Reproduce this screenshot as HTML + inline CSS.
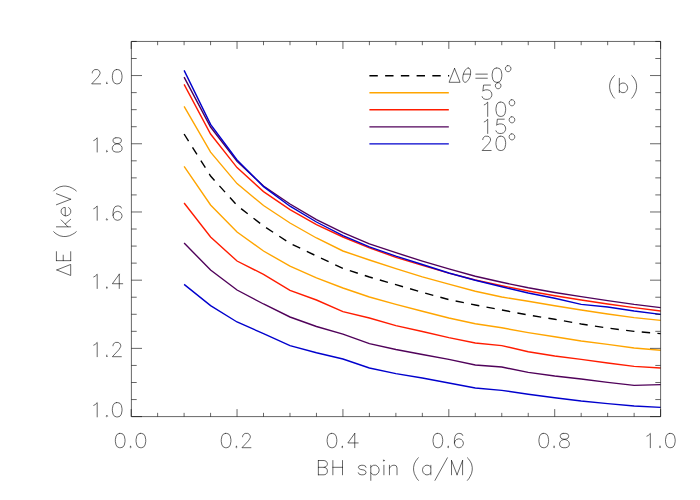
<!DOCTYPE html>
<html><head><meta charset="utf-8"><title>plot</title>
<style>html,body{margin:0;padding:0;background:#fff;font-family:"Liberation Sans",sans-serif;}svg{display:block}</style>
</head><body>
<svg width="700" height="500" viewBox="0 0 700 500">
<rect width="700" height="500" fill="#fff"/>
<polyline fill="none" stroke="#000" stroke-width="1.4" stroke-dasharray="8.4 7.33" points="184.1,134 210.57,176 237.04,205.5 263.51,226 289.99,243.3 316.46,256 342.93,268.4 369.4,277 395.88,284.7 422.35,292.3 448.82,299.6 475.29,305 501.77,310 528.24,315 554.71,319.3 581.18,324 607.66,328 634.13,331.4 660.6,333.6"/>
<polyline fill="none" stroke="#ffa500" stroke-width="1.4" points="184.1,106.4 210.57,152.2 237.04,183.6 263.51,205.5 289.99,223 316.46,238 342.93,251 369.4,260 395.88,268.7 422.35,276.8 448.82,284.1 475.29,291.2 501.77,297 528.24,301.3 554.71,305.8 581.18,310 607.66,314 634.13,317.6 660.6,320.4"/>
<polyline fill="none" stroke="#ffa500" stroke-width="1.4" points="184.1,166.4 210.57,205 237.04,232 263.51,251 289.99,266.2 316.46,277.8 342.93,288 369.4,297 395.88,304.4 422.35,311.3 448.82,318 475.29,323.8 501.77,327.8 528.24,332.6 554.71,336.8 581.18,341 607.66,344.4 634.13,348 660.6,350.2"/>
<polyline fill="none" stroke="#ff1c00" stroke-width="1.4" points="184.1,84.4 210.57,134 237.04,167.6 263.51,191.6 289.99,209.6 316.46,224.7 342.93,237 369.4,247.9 395.88,257.3 422.35,265.4 448.82,273.2 475.29,280 501.77,285.7 528.24,291 554.71,295.7 581.18,300 607.66,304 634.13,307.6 660.6,311"/>
<polyline fill="none" stroke="#ff1c00" stroke-width="1.4" points="184.1,203 210.57,237 237.04,261 263.51,274.4 289.99,290.4 316.46,300 342.93,311.6 369.4,318 395.88,325.6 422.35,331.5 448.82,337.6 475.29,343 501.77,345.6 528.24,351.8 554.71,356 581.18,359.4 607.66,363 634.13,366.4 660.6,368"/>
<polyline fill="none" stroke="#50025a" stroke-width="1.4" points="184.1,77.2 210.57,127 237.04,161.4 263.51,186 289.99,204 316.46,219.65 342.93,232.7 369.4,243.9 395.88,252.7 422.35,261.1 448.82,268.9 475.29,276.2 501.77,282.3 528.24,287.8 554.71,292.5 581.18,296.6 607.66,300.6 634.13,304.4 660.6,307.6"/>
<polyline fill="none" stroke="#50025a" stroke-width="1.4" points="184.1,243 210.57,270 237.04,290 263.51,304 289.99,317 316.46,326.5 342.93,334.2 369.4,343.6 395.88,349.5 422.35,354.5 448.82,359.4 475.29,365 501.77,367 528.24,372.4 554.71,376 581.18,379 607.66,382.4 634.13,385.4 660.6,384.6"/>
<polyline fill="none" stroke="#0000cd" stroke-width="1.4" points="184.1,70.4 210.57,124.4 237.04,160 263.51,186.6 289.99,206.2 316.46,222 342.93,235.6 369.4,246.9 395.88,256.1 422.35,264.5 448.82,273 475.29,280.2 501.77,286.7 528.24,293 554.71,298.3 581.18,304.4 607.66,307 634.13,311 660.6,314.4"/>
<polyline fill="none" stroke="#0000cd" stroke-width="1.4" points="184.1,284.4 210.57,305.6 237.04,322 263.51,333.6 289.99,345.7 316.46,352.7 342.93,359 369.4,368 395.88,373.6 422.35,378 448.82,383 475.29,388 501.77,390.4 528.24,394.2 554.71,397.8 581.18,401 607.66,403.6 634.13,406 660.6,407.4"/>
<line x1="369.4" y1="75.68" x2="449.17" y2="75.68" stroke="#000" stroke-width="1.4" stroke-dasharray="8.4 7.33"/>
<line x1="369.4" y1="92.74" x2="448.82" y2="92.74" stroke="#ffa500" stroke-width="1.4"/>
<line x1="369.4" y1="109.79" x2="448.82" y2="109.79" stroke="#ff1c00" stroke-width="1.4"/>
<line x1="369.4" y1="126.84" x2="448.82" y2="126.84" stroke="#50025a" stroke-width="1.4"/>
<line x1="369.4" y1="143.89" x2="448.82" y2="143.89" stroke="#0000cd" stroke-width="1.4"/>
<path d="M131.4 41.45 H660.6 V416.6 H131.4 Z M131.15 416.6 v-7.5 M131.15 41.45 v7.5 M157.62 416.6 v-3.75 M157.62 41.45 v3.75 M184.1 416.6 v-3.75 M184.1 41.45 v3.75 M210.57 416.6 v-3.75 M210.57 41.45 v3.75 M237.04 416.6 v-7.5 M237.04 41.45 v7.5 M263.51 416.6 v-3.75 M263.51 41.45 v3.75 M289.99 416.6 v-3.75 M289.99 41.45 v3.75 M316.46 416.6 v-3.75 M316.46 41.45 v3.75 M342.93 416.6 v-7.5 M342.93 41.45 v7.5 M369.4 416.6 v-3.75 M369.4 41.45 v3.75 M395.88 416.6 v-3.75 M395.88 41.45 v3.75 M422.35 416.6 v-3.75 M422.35 41.45 v3.75 M448.82 416.6 v-7.5 M448.82 41.45 v7.5 M475.29 416.6 v-3.75 M475.29 41.45 v3.75 M501.77 416.6 v-3.75 M501.77 41.45 v3.75 M528.24 416.6 v-3.75 M528.24 41.45 v3.75 M554.71 416.6 v-7.5 M554.71 41.45 v7.5 M581.18 416.6 v-3.75 M581.18 41.45 v3.75 M607.66 416.6 v-3.75 M607.66 41.45 v3.75 M634.13 416.6 v-3.75 M634.13 41.45 v3.75 M660.6 416.6 v-7.5 M660.6 41.45 v7.5 M131.4 416.6 h10.6 M660.6 416.6 h-10.6 M131.4 399.55 h5.3 M660.6 399.55 h-5.3 M131.4 382.5 h5.3 M660.6 382.5 h-5.3 M131.4 365.44 h5.3 M660.6 365.44 h-5.3 M131.4 348.39 h10.6 M660.6 348.39 h-10.6 M131.4 331.34 h5.3 M660.6 331.34 h-5.3 M131.4 314.29 h5.3 M660.6 314.29 h-5.3 M131.4 297.23 h5.3 M660.6 297.23 h-5.3 M131.4 280.18 h10.6 M660.6 280.18 h-10.6 M131.4 263.13 h5.3 M660.6 263.13 h-5.3 M131.4 246.08 h5.3 M660.6 246.08 h-5.3 M131.4 229.03 h5.3 M660.6 229.03 h-5.3 M131.4 211.97 h10.6 M660.6 211.97 h-10.6 M131.4 194.92 h5.3 M660.6 194.92 h-5.3 M131.4 177.87 h5.3 M660.6 177.87 h-5.3 M131.4 160.82 h5.3 M660.6 160.82 h-5.3 M131.4 143.76 h10.6 M660.6 143.76 h-10.6 M131.4 126.71 h5.3 M660.6 126.71 h-5.3 M131.4 109.66 h5.3 M660.6 109.66 h-5.3 M131.4 92.61 h5.3 M660.6 92.61 h-5.3 M131.4 75.55 h10.6 M660.6 75.55 h-10.6 M131.4 58.5 h5.3 M660.6 58.5 h-5.3 M131.4 41.45 h5.3 M660.6 41.45 h-5.3" fill="none" stroke="#000" stroke-width="0.6"/>
<path d="M119.51 433.42 L117.44 434.1 L116.06 436.14 L115.37 439.54 L115.37 441.58 L116.06 444.98 L117.44 447.02 L119.51 447.7 L120.89 447.7 L122.96 447.02 L124.34 444.98 L125.03 441.58 L125.03 439.54 L124.34 436.14 L122.96 434.1 L120.89 433.42 L119.51 433.42 M130.55 446.34 L129.86 447.02 L130.55 447.7 L131.24 447.02 L130.55 446.34 M140.21 433.42 L138.14 434.1 L136.76 436.14 L136.07 439.54 L136.07 441.58 L136.76 444.98 L138.14 447.02 L140.21 447.7 L141.59 447.7 L143.66 447.02 L145.04 444.98 L145.73 441.58 L145.73 439.54 L145.04 436.14 L143.66 434.1 L141.59 433.42 L140.21 433.42 M225.4 433.42 L223.33 434.1 L221.95 436.14 L221.26 439.54 L221.26 441.58 L221.95 444.98 L223.33 447.02 L225.4 447.7 L226.78 447.7 L228.85 447.02 L230.23 444.98 L230.92 441.58 L230.92 439.54 L230.23 436.14 L228.85 434.1 L226.78 433.42 L225.4 433.42 M236.44 446.34 L235.75 447.02 L236.44 447.7 L237.13 447.02 L236.44 446.34 M242.6 436.82 L242.6 436.14 L243.24 434.78 L243.89 434.1 L245.16 433.42 L247.73 433.42 L249 434.1 L249.65 434.78 L250.29 436.14 L250.29 437.5 L249.65 438.86 L248.37 440.9 L241.96 447.7 L250.93 447.7 M331.29 433.42 L329.22 434.1 L327.84 436.14 L327.15 439.54 L327.15 441.58 L327.84 444.98 L329.22 447.02 L331.29 447.7 L332.67 447.7 L334.74 447.02 L336.12 444.98 L336.81 441.58 L336.81 439.54 L336.12 436.14 L334.74 434.1 L332.67 433.42 L331.29 433.42 M342.33 446.34 L341.64 447.02 L342.33 447.7 L343.02 447.02 L342.33 446.34 M354.75 433.42 L347.85 442.94 L358.2 442.94 M354.75 433.42 L354.75 447.7 M437.18 433.42 L435.11 434.1 L433.73 436.14 L433.04 439.54 L433.04 441.58 L433.73 444.98 L435.11 447.02 L437.18 447.7 L438.56 447.7 L440.63 447.02 L442.01 444.98 L442.7 441.58 L442.7 439.54 L442.01 436.14 L440.63 434.1 L438.56 433.42 L437.18 433.42 M448.22 446.34 L447.53 447.02 L448.22 447.7 L448.91 447.02 L448.22 446.34 M462.71 435.46 L462.02 434.1 L459.95 433.42 L458.57 433.42 L456.5 434.1 L455.12 436.14 L454.43 439.54 L454.43 442.94 L455.12 445.66 L456.5 447.02 L458.57 447.7 L459.26 447.7 L461.33 447.02 L462.71 445.66 L463.4 443.62 L463.4 442.94 L462.71 440.9 L461.33 439.54 L459.26 438.86 L458.57 438.86 L456.5 439.54 L455.12 440.9 L454.43 442.94 M543.07 433.42 L541 434.1 L539.62 436.14 L538.93 439.54 L538.93 441.58 L539.62 444.98 L541 447.02 L543.07 447.7 L544.45 447.7 L546.52 447.02 L547.9 444.98 L548.59 441.58 L548.59 439.54 L547.9 436.14 L546.52 434.1 L544.45 433.42 L543.07 433.42 M554.11 446.34 L553.42 447.02 L554.11 447.7 L554.8 447.02 L554.11 446.34 M563.08 433.42 L561.01 434.1 L560.32 435.46 L560.32 436.82 L561.01 438.18 L562.39 438.86 L565.15 439.54 L567.22 440.22 L568.6 441.58 L569.29 442.94 L569.29 444.98 L568.6 446.34 L567.91 447.02 L565.84 447.7 L563.08 447.7 L561.01 447.02 L560.32 446.34 L559.63 444.98 L559.63 442.94 L560.32 441.58 L561.7 440.22 L563.77 439.54 L566.53 438.86 L567.91 438.18 L568.6 436.82 L568.6 435.46 L567.91 434.1 L565.84 433.42 L563.08 433.42 M646.89 436.14 L648.27 435.46 L650.34 433.42 L650.34 447.7 M660 446.34 L659.31 447.02 L660 447.7 L660.69 447.02 L660 446.34 M669.66 433.42 L667.59 434.1 L666.21 436.14 L665.52 439.54 L665.52 441.58 L666.21 444.98 L667.59 447.02 L669.66 447.7 L671.04 447.7 L673.11 447.02 L674.49 444.98 L675.18 441.58 L675.18 439.54 L674.49 436.14 L673.11 434.1 L671.04 433.42 L669.66 433.42 M93.74 405.34 L95.12 404.66 L97.19 402.62 L97.19 416.9 M106.85 415.54 L106.16 416.22 L106.85 416.9 L107.54 416.22 L106.85 415.54 M116.51 402.62 L114.44 403.3 L113.06 405.34 L112.37 408.74 L112.37 410.78 L113.06 414.18 L114.44 416.22 L116.51 416.9 L117.89 416.9 L119.96 416.22 L121.34 414.18 L122.03 410.78 L122.03 408.74 L121.34 405.34 L119.96 403.3 L117.89 402.62 L116.51 402.62 M93.74 345.13 L95.12 344.45 L97.19 342.41 L97.19 356.69 M106.85 355.33 L106.16 356.01 L106.85 356.69 L107.54 356.01 L106.85 355.33 M113.01 345.81 L113.01 345.13 L113.65 343.77 L114.3 343.09 L115.57 342.41 L118.14 342.41 L119.41 343.09 L120.06 343.77 L120.7 345.13 L120.7 346.49 L120.06 347.85 L118.78 349.89 L112.37 356.69 L121.34 356.69 M93.74 276.92 L95.12 276.24 L97.19 274.2 L97.19 288.48 M106.85 287.12 L106.16 287.8 L106.85 288.48 L107.54 287.8 L106.85 287.12 M119.27 274.2 L112.37 283.72 L122.72 283.72 M119.27 274.2 L119.27 288.48 M93.74 208.71 L95.12 208.03 L97.19 205.99 L97.19 220.27 M106.85 218.91 L106.16 219.59 L106.85 220.27 L107.54 219.59 L106.85 218.91 M121.34 208.03 L120.65 206.67 L118.58 205.99 L117.2 205.99 L115.13 206.67 L113.75 208.71 L113.06 212.11 L113.06 215.51 L113.75 218.23 L115.13 219.59 L117.2 220.27 L117.89 220.27 L119.96 219.59 L121.34 218.23 L122.03 216.19 L122.03 215.51 L121.34 213.47 L119.96 212.11 L117.89 211.43 L117.2 211.43 L115.13 212.11 L113.75 213.47 L113.06 215.51 M93.74 140.5 L95.12 139.82 L97.19 137.78 L97.19 152.06 M106.85 150.7 L106.16 151.38 L106.85 152.06 L107.54 151.38 L106.85 150.7 M115.82 137.78 L113.75 138.46 L113.06 139.82 L113.06 141.18 L113.75 142.54 L115.13 143.22 L117.89 143.9 L119.96 144.58 L121.34 145.94 L122.03 147.3 L122.03 149.34 L121.34 150.7 L120.65 151.38 L118.58 152.06 L115.82 152.06 L113.75 151.38 L113.06 150.7 L112.37 149.34 L112.37 147.3 L113.06 145.94 L114.44 144.58 L116.51 143.9 L119.27 143.22 L120.65 142.54 L121.34 141.18 L121.34 139.82 L120.65 138.46 L118.58 137.78 L115.82 137.78 M92.31 72.97 L92.31 72.29 L92.95 70.93 L93.6 70.25 L94.87 69.57 L97.44 69.57 L98.71 70.25 L99.36 70.93 L100 72.29 L100 73.65 L99.36 75.01 L98.08 77.05 L91.67 83.85 L100.64 83.85 M106.85 82.49 L106.16 83.17 L106.85 83.85 L107.54 83.17 L106.85 82.49 M116.51 69.57 L114.44 70.25 L113.06 72.29 L112.37 75.69 L112.37 77.73 L113.06 81.13 L114.44 83.17 L116.51 83.85 L117.89 83.85 L119.96 83.17 L121.34 81.13 L122.03 77.73 L122.03 75.69 L121.34 72.29 L119.96 70.25 L117.89 69.57 L116.51 69.57 M318.37 460.52 L318.37 474.8 M318.37 460.52 L324.13 460.52 L326.05 461.2 L326.69 461.88 L327.34 463.24 L327.34 464.6 L326.69 465.96 L326.05 466.64 L324.13 467.32 M318.37 467.32 L324.13 467.32 L326.05 468 L326.69 468.68 L327.34 470.04 L327.34 472.08 L326.69 473.44 L326.05 474.12 L324.13 474.8 L318.37 474.8 M332.86 460.52 L332.86 474.8 M342.51 460.52 L342.51 474.8 M332.86 467.32 L342.51 467.32 M365.98 467.32 L365.29 465.96 L363.22 465.28 L361.15 465.28 L359.08 465.96 L358.38 467.32 L359.08 468.68 L360.46 469.36 L363.91 470.04 L365.29 470.72 L365.98 472.08 L365.98 472.76 L365.29 474.12 L363.22 474.8 L361.15 474.8 L359.08 474.12 L358.38 472.76 M370.81 465.28 L370.81 480.37 M370.81 467.32 L372.19 465.96 L373.56 465.28 L375.63 465.28 L377.01 465.96 L378.39 467.32 L379.09 469.36 L379.09 470.72 L378.39 472.76 L377.01 474.12 L375.63 474.8 L373.56 474.8 L372.19 474.12 L370.81 472.76 M383.23 460.52 L383.92 461.2 L384.61 460.52 L383.92 459.84 L383.23 460.52 M383.92 465.28 L383.92 474.8 M389.44 465.28 L389.44 474.8 M389.44 468 L391.5 465.96 L392.88 465.28 L394.96 465.28 L396.34 465.96 L397.02 468 L397.02 474.8 M418.42 457.8 L417.04 459.16 L415.66 461.2 L414.27 463.92 L413.59 467.32 L413.59 470.04 L414.27 473.44 L415.66 476.39 L417.04 478.78 L418.42 480.37 M430.84 465.28 L430.84 474.8 M430.84 467.32 L429.46 465.96 L428.07 465.28 L426 465.28 L424.62 465.96 L423.25 467.32 L422.56 469.36 L422.56 470.72 L423.25 472.76 L424.62 474.12 L426 474.8 L428.07 474.8 L429.46 474.12 L430.84 472.76 M447.39 457.8 L434.98 480.37 M451.53 460.52 L451.53 474.8 M451.53 460.52 L457.06 474.8 M462.58 460.52 L457.06 474.8 M462.58 460.52 L462.58 474.8 M467.4 457.8 L468.78 459.16 L470.17 461.2 L471.55 463.92 L472.24 467.32 L472.24 470.04 L471.55 473.44 L470.17 476.39 L468.78 478.78 L467.4 480.37 M56.83 269.96 L70.7 275.48 L70.7 264.44 L56.83 269.96 M56.42 260.65 L70.7 260.65 M56.42 260.65 L56.42 251.68 M63.22 260.65 L63.22 255.13 M70.7 260.65 L70.7 251.68 M53.7 231.67 L55.06 233.05 L57.1 234.43 L59.82 235.81 L63.22 236.5 L65.94 236.5 L69.34 235.81 L72.29 234.43 L74.68 233.05 L76.27 231.67 M56.42 226.84 L70.7 226.84 M61.18 219.94 L67.98 226.84 M65.26 224.08 L70.7 219.25 M65.26 215.8 L65.26 207.52 L63.9 207.52 L62.54 208.21 L61.86 208.9 L61.18 210.28 L61.18 212.35 L61.86 213.73 L63.22 215.11 L65.26 215.8 L66.62 215.8 L68.66 215.11 L70.02 213.73 L70.7 212.35 L70.7 210.28 L70.02 208.9 L68.66 207.52 M56.42 204.76 L70.7 199.24 M56.42 193.72 L70.7 199.24 M53.7 190.96 L55.06 189.58 L57.1 188.2 L59.82 186.82 L63.22 186.13 L65.94 186.13 L69.34 186.82 L72.29 188.2 L74.68 189.58 L76.27 190.96 M614.49 75.6 L613.11 76.96 L611.73 79 L610.35 81.72 L609.66 85.12 L609.66 87.84 L610.35 91.24 L611.73 94.19 L613.11 96.58 L614.49 98.17 M619.32 78.32 L619.32 92.6 M619.32 85.12 L620.7 83.76 L622.08 83.08 L624.15 83.08 L625.53 83.76 L626.91 85.12 L627.6 87.16 L627.6 88.52 L626.91 90.56 L625.53 91.92 L624.15 92.6 L622.08 92.6 L620.7 91.92 L619.32 90.56 M631.74 75.6 L633.12 76.96 L634.5 79 L635.88 81.72 L636.57 85.12 L636.57 87.84 L635.88 91.24 L634.5 94.19 L633.12 96.58 L631.74 98.17 M454.56 68.43 L449.05 82.3 L460.08 82.3 L454.56 68.43 M468.3 68.02 L469.06 68.2 L469.7 68.73 L470.19 69.58 L470.51 70.71 L470.64 72.06 L470.56 73.57 L470.3 75.16 L469.86 76.75 L469.25 78.26 L468.52 79.61 L467.7 80.74 L466.83 81.59 L465.96 82.12 L465.12 82.3 L464.36 82.12 L463.71 81.59 L463.22 80.74 L462.91 79.61 L462.78 78.26 L462.86 76.75 L463.12 75.16 L463.56 73.57 L464.17 72.06 L464.89 70.71 L465.72 69.58 L466.59 68.73 L467.46 68.2 L468.3 68.02 M463.45 74.14 L470.42 74.14 M475.82 74.14 L487.34 74.14 M475.82 78.22 L487.34 78.22 M496.31 68.02 L494.24 68.7 L492.86 70.74 L492.17 74.14 L492.17 76.18 L492.86 79.58 L494.24 81.62 L496.31 82.3 L497.69 82.3 L499.76 81.62 L501.14 79.58 L501.83 76.18 L501.83 74.14 L501.14 70.74 L499.76 68.7 L497.69 68.02 L496.31 68.02 M507.52 65.7 L506.67 66.12 L505.81 66.96 L505.38 68.23 L505.38 69.07 L505.81 70.34 L506.67 71.18 L507.52 71.6 L508.81 71.6 L509.66 71.18 L510.52 70.34 L510.94 69.07 L510.94 68.23 L510.52 66.96 L509.66 66.12 L508.81 65.7 L507.52 65.7 M490.45 85.07 L483.55 85.07 L482.86 91.19 L483.55 90.51 L485.62 89.83 L487.69 89.83 L489.76 90.51 L491.14 91.87 L491.83 93.91 L491.83 95.27 L491.14 97.31 L489.76 98.67 L487.69 99.35 L485.62 99.35 L483.55 98.67 L482.86 97.99 L482.17 96.63 M497.52 82.75 L496.67 83.17 L495.81 84.01 L495.38 85.28 L495.38 86.12 L495.81 87.39 L496.67 88.23 L497.52 88.65 L498.81 88.65 L499.66 88.23 L500.52 87.39 L500.94 86.12 L500.94 85.28 L500.52 84.01 L499.66 83.17 L498.81 82.75 L497.52 82.75 M484.24 104.84 L485.62 104.16 L487.69 102.12 L487.69 116.4 M500.11 102.12 L498.04 102.8 L496.66 104.84 L495.97 108.24 L495.97 110.28 L496.66 113.68 L498.04 115.72 L500.11 116.4 L501.49 116.4 L503.56 115.72 L504.94 113.68 L505.63 110.28 L505.63 108.24 L504.94 104.84 L503.56 102.8 L501.49 102.12 L500.11 102.12 M511.32 99.8 L510.47 100.22 L509.61 101.07 L509.18 102.33 L509.18 103.17 L509.61 104.44 L510.47 105.28 L511.32 105.7 L512.61 105.7 L513.46 105.28 L514.32 104.44 L514.74 103.17 L514.74 102.33 L514.32 101.07 L513.46 100.22 L512.61 99.8 L511.32 99.8 M484.24 121.9 L485.62 121.22 L487.69 119.18 L487.69 133.46 M504.25 119.18 L497.35 119.18 L496.66 125.3 L497.35 124.62 L499.42 123.94 L501.49 123.94 L503.56 124.62 L504.94 125.98 L505.63 128.02 L505.63 129.38 L504.94 131.42 L503.56 132.78 L501.49 133.46 L499.42 133.46 L497.35 132.78 L496.66 132.1 L495.97 130.74 M511.32 116.85 L510.47 117.28 L509.61 118.12 L509.18 119.38 L509.18 120.23 L509.61 121.49 L510.47 122.34 L511.32 122.76 L512.61 122.76 L513.46 122.34 L514.32 121.49 L514.74 120.23 L514.74 119.38 L514.32 118.12 L513.46 117.28 L512.61 116.85 L511.32 116.85 M482.81 139.63 L482.81 138.95 L483.45 137.59 L484.1 136.91 L485.37 136.23 L487.94 136.23 L489.21 136.91 L489.86 137.59 L490.5 138.95 L490.5 140.31 L489.86 141.67 L488.58 143.71 L482.17 150.51 L491.14 150.51 M500.11 136.23 L498.04 136.91 L496.66 138.95 L495.97 142.35 L495.97 144.39 L496.66 147.79 L498.04 149.83 L500.11 150.51 L501.49 150.51 L503.56 149.83 L504.94 147.79 L505.63 144.39 L505.63 142.35 L504.94 138.95 L503.56 136.91 L501.49 136.23 L500.11 136.23 M511.32 133.91 L510.47 134.33 L509.61 135.17 L509.18 136.44 L509.18 137.28 L509.61 138.54 L510.47 139.39 L511.32 139.81 L512.61 139.81 L513.46 139.39 L514.32 138.54 L514.74 137.28 L514.74 136.44 L514.32 135.17 L513.46 134.33 L512.61 133.91 L511.32 133.91" fill="none" stroke="#000" stroke-width="0.6" stroke-linecap="round" stroke-linejoin="round"/>
</svg>
</body></html>
